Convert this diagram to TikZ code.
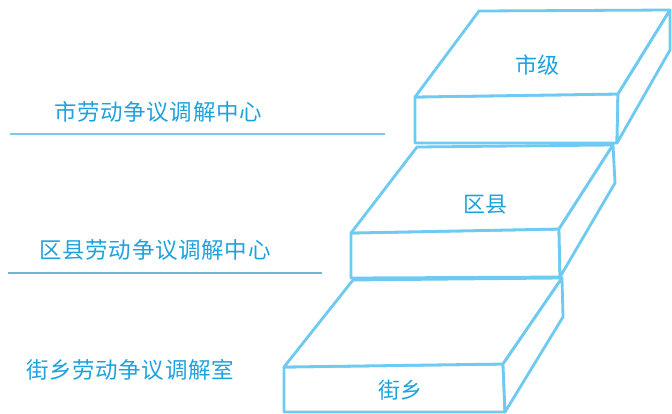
\documentclass[tikz,border=0pt]{standalone}
\usepackage{fontspec}
\newfontfamily\cjk[LetterSpace=3]{Noto Sans CJK SC}
\newfontfamily\cjkb{Noto Sans CJK SC}
\definecolor{boxline}{RGB}{110,202,240}
\definecolor{txt}{RGB}{30,162,222}
\definecolor{ruleA}{RGB}{120,202,236}
\definecolor{ruleB}{RGB}{110,182,212}
\tikzset{
  slab/.style={draw=boxline, line width=2.8pt, line join=round, fill=white},
  sidelabel/.style={text=txt, font=\cjk\fontsize{22.5}{22.5}\selectfont, inner sep=0pt},
  boxlabel/.style={text=txt, font=\cjkb\fontsize{22}{22}\selectfont, inner sep=0pt},
  underrule/.style={line width=1.4pt}
}
\begin{document}
\begin{tikzpicture}[x=1pt,y=-1pt]
\useasboundingbox (0,0) rectangle (672,413);
% bottom slab (街乡)
\draw[slab] (284,367) -- (503,364) -- (505,412) -- (284,412) -- cycle;
\draw[slab] (284,367) -- (353,280) -- (562,278) -- (503,364) -- cycle;
\draw[slab] (562,278) -- (563,317) -- (505,412) -- (503,364) -- cycle;
% middle slab (区县)
\draw[slab] (351,233) -- (559,229) -- (560,277) -- (351,278) -- cycle;
\draw[slab] (351,233) -- (417,147) -- (613,145) -- (559,229) -- cycle;
\draw[slab] (613,145) -- (615,183) -- (560,277) -- (559,229) -- cycle;
% top slab (市级)
\draw[slab] (415,97) -- (618,94) -- (617,143) -- (415,143) -- cycle;
\draw[slab] (415,97) -- (479,11) -- (670,10) -- (618,94) -- cycle;
\draw[slab] (670,10) -- (670,50) -- (617,143) -- (618,94) -- cycle;
% slab labels
\node[boxlabel] (shi) at (537,65) {市级};
\node[boxlabel] (qu) at (485,205) {区县};
\node[boxlabel] (jie) at (400,390) {街乡};
% left labels
\node[sidelabel] (l1) at (158,112) {市劳动争议调解中心};
\node[sidelabel] (l2) at (155,250) {区县劳动争议调解中心};
\node[sidelabel] (l3) at (130,370) {街乡劳动争议调解室};
\coordinate (r1a) at (10,134);
\coordinate (r1b) at (385,134);
\coordinate (r2a) at (8,273);
\coordinate (r2b) at (322,273);
\draw[underrule, draw=ruleA] (r1a) -- (r1b);
\draw[underrule, draw=ruleB] (r2a) -- (r2b);
\end{tikzpicture}
\end{document}
